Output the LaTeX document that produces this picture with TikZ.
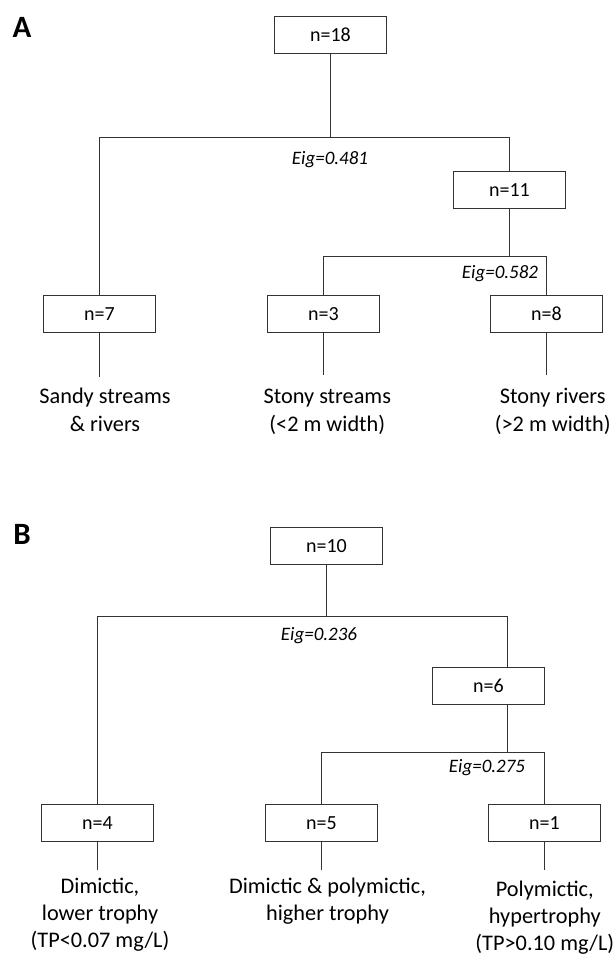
\documentclass[tikz,border=0pt]{standalone}
\usepackage{fontspec}
\setmainfont{Carlito}
\begin{document}
\begin{tikzpicture}[x=1pt,y=-1pt,
  box/.style={draw=black!80, line width=1pt, minimum width=112pt, minimum height=37pt, inner sep=0pt, outer sep=0pt, font=\fontsize{20}{22}\selectfont},
  eig/.style={font=\fontsize{19}{21}\selectfont\itshape, inner sep=0pt},
  leafA/.style={align=center, inner sep=0pt, anchor=base, font=\fontsize{22.3}{28}\selectfont},
  leafB/.style={align=center, inner sep=0pt, anchor=base, font=\fontsize{22.3}{27}\selectfont},
  conn/.style={draw=black!80, line width=1pt},
  panel/.style={font=\fontsize{31}{33}\selectfont\bfseries, inner sep=0pt}]
\useasboundingbox (0,0) rectangle (615,955);

% ---------- Panel A ----------
\node[panel] (A) at (22,27) {A};
\node[box] (a18) at (330.5,35) {n=18};
\node[box] (a11) at (509.5,190) {n=11};
\node[box] (a7) at (99.5,314) {n=7};
\node[box] (a3) at (323.5,314) {n=3};
\node[box] (a8) at (546.5,314) {n=8};
\coordinate (ja) at (330.5,137.5);
\coordinate (jb) at (509.5,256.5);
\node[eig] (ea) at (330,160) {Eig=0.481};
\node[eig] (eb) at (500,273.3) {Eig=0.582};
\node[leafA] (ta7) at (105,431) {Sandy streams\\\& rivers};
\node[leafA] (ta3) at (327.3,431) {Stony streams\\(<2 m width)};
\node[leafA] (ta8) at (552.7,431) {Stony rivers\\(>2 m width)};
\coordinate (ea7) at (99.5,377);
\coordinate (ea3) at (323.5,375);
\coordinate (ea8) at (546.5,375);

\draw[conn] (a18.south) -- (ja);
\draw[conn] (a7.north) |- (ja) -| (a11.north);
\draw[conn] (a11.south) -- (jb);
\draw[conn] (a3.north) |- (jb) -| (a8.north);
\draw[conn] (a7.south) -- (ea7);
\draw[conn] (a3.south) -- (ea3);
\draw[conn] (a8.south) -- (ea8);

% ---------- Panel B ----------
\node[panel] (B) at (22,534.5) {B};
\node[box] (b10) at (326.5,546) {n=10};
\node[box] (b6) at (488.5,686) {n=6};
\node[box] (b4) at (97.5,823) {n=4};
\node[box] (b5) at (321.5,823) {n=5};
\node[box] (b1) at (544.5,823) {n=1};
\coordinate (jc) at (326.5,616.5);
\coordinate (jd) at (507.5,752.5);
\node[eig] (ec) at (319,635.3) {Eig=0.236};
\node[eig] (ed) at (487,768) {Eig=0.275};
\node[leafB] (tb4) at (100,947.7) {Dimictic,\\lower trophy\\(TP<0.07 mg/L)};
\node[leafB] (tb5) at (327.5,920.7) {Dimictic \& polymictic,\\higher trophy};
\node[leafB] (tb1) at (544.8,950.8) {Polymictic,\\hypertrophy\\(TP>0.10 mg/L)};
\coordinate (eb4) at (97.5,870.3);
\coordinate (eb5) at (321.5,870.3);
\coordinate (eb1) at (544.5,870.3);

\draw[conn] (b10.south) -- (jc);
\draw[conn] (b4.north) |- (jc) -| ([xshift=19pt]b6.north);
\draw[conn] ([xshift=19pt]b6.south) -- (jd);
\draw[conn] (b5.north) |- (jd) -| (b1.north);
\draw[conn] (b4.south) -- (eb4);
\draw[conn] (b5.south) -- (eb5);
\draw[conn] (b1.south) -- (eb1);
\end{tikzpicture}
\end{document}
